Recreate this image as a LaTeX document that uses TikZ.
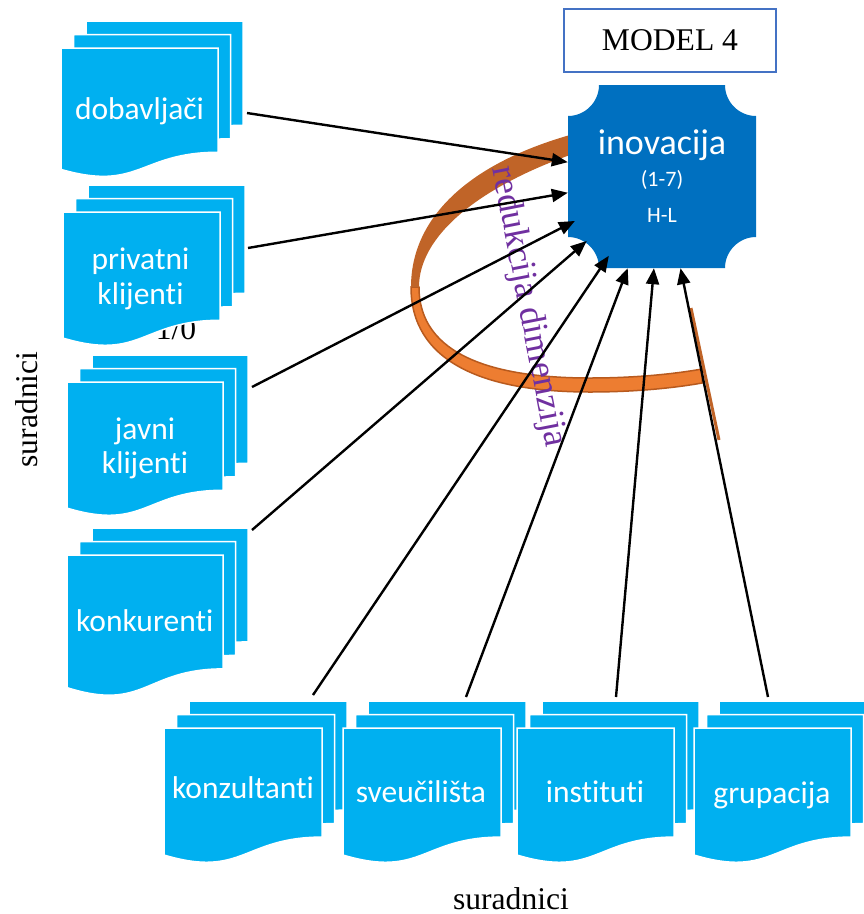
\documentclass[tikz,border=0pt]{standalone}
\usepackage{fontspec}
\setmainfont{Liberation Serif}
\newfontfamily\calfont[Ligatures=NoCommon]{Carlito}
\usepackage{xcolor}
\usetikzlibrary{arrows.meta}
\usetikzlibrary{positioning}
\usetikzlibrary{calc}

\definecolor{docblue}{RGB}{0,176,240}
\definecolor{inovblue}{RGB}{0,112,192}
\definecolor{modelblue}{RGB}{68,114,196}
\definecolor{redpurple}{RGB}{112,48,160}
\definecolor{ringorange}{RGB}{237,125,49}
\definecolor{ringbrown}{RGB}{192,100,40}
\definecolor{ringedge}{RGB}{184,90,30}

% one page, top left (#1,#2), width #3, height #4
\newcommand{\docpage}[4]{%
  \pgfmathsetmacro{\dpr}{#1+#3}%
  \pgfmathsetmacro{\dpm}{#1+0.5*#3}%
  \pgfmathsetmacro{\dpa}{#2+0.802*#4}%
  \pgfmathsetmacro{\dpb}{#2+1.1075*#4}%
  \pgfmathsetmacro{\dpc}{#2+0.934*#4}%
  \filldraw[fill=docblue,draw=white,line width=1.5pt] (#1,#2) -- (\dpr,#2) -- (\dpr,\dpa)
    .. controls (\dpm,\dpa) and (\dpm,\dpb) .. (#1,\dpc) -- cycle;}
% three pages behind each other
\newcommand{\docstack}[4]{%
  \docpage{#1+25}{#2-27}{#3}{#4}%
  \docpage{#1+12.5}{#2-13.5}{#3}{#4}%
  \docpage{#1}{#2}{#3}{#4}}

\begin{document}
\begin{tikzpicture}[x=1pt,y=-1pt]
			\tikzstyle{every node}=[inner sep=0pt]
			\tikzstyle{doctext}=[text=white,font=\calfont\fontsize{31.5}{34.3}\selectfont,align=center]
			\tikzstyle{serif}=[font=\rmfamily\fontsize{31.6}{36}\selectfont]
			\tikzstyle{conn}=[->,>={Triangle[length=16pt,width=13pt]},line width=2.4pt]

			\useasboundingbox (0,0) rectangle (864,914);

			% ring
			\filldraw[fill=ringorange,draw=ringedge,line width=1.5pt] (411,287) .. controls (411,360) and (480,392) .. (590,392)
			  .. controls (640,392) and (680,387) .. (702,383) -- (702,369) .. controls (680,373) and (640,378) .. (590,378)
			  .. controls (495,378) and (419,356) .. (419,287) -- cycle;
			\fill[ringbrown] (570,135) .. controls (465,165) and (411,220) .. (411,287) -- (419,287)
			  .. controls (419,236) and (478,188) .. (570,155) -- cycle;
			\draw[ringbrown,line width=3pt] (691,308) -- (719,440);

			\node (red) [text=redpurple,font=\rmfamily\fontsize{36}{40}\selectfont,rotate=-79] at (528,307) {redukcija dimenzija};

			% left column
			\node (jedan) [serif,anchor=base] at (176,339) {1/0};
			\docstack{61}{48}{157}{130}
			\node (dob) [doctext] at (139.5,111.4) {dobavljači};
			\docstack{63}{212}{157}{135}
			\node (priv) [doctext] at (140.5,278.8) {privatni\\klijenti};
			\docstack{67}{382}{156}{135}
			\node (javni) [doctext] at (145,448.2) {javni\\klijenti};
			\docstack{67}{555}{156}{142}
			\node (konk) [doctext] at (144.7,620.7) {konkurenti};

			% bottom row
			\docstack{164}{728}{158}{136}
			\node (konz) [doctext] at (243,788) {konzultanti};
			\docstack{343}{728}{158}{136}
			\node (sveu) [doctext] at (421,792) {sveučilišta};
			\docstack{517}{728}{157}{136}
			\node (inst) [doctext] at (595,792) {instituti};
			\docstack{694}{728}{157}{136}
			\node (grup) [doctext] at (772,795.6) {grupacija};

			% centre
			\fill[inovblue] (599,85) -- (725,85) .. controls (725,102) and (739,116) .. (756,116) -- (756,237)
			  .. controls (739,237) and (725,251) .. (725,268) -- (599,268) .. controls (599,251) and (585,237) .. (568,237)
			  -- (568,116) .. controls (585,116) and (599,102) .. (599,85) -- cycle;
			\node (inov) [text=white,font=\calfont\fontsize{22}{32}\selectfont,align=center,minimum width=188pt,minimum height=183pt]
			  at (662,176.5) {{\fontsize{36}{40}\selectfont inovacija}\\(1-7)\\[4pt]H-L};
			\node (model) [draw=modelblue,line width=2pt,minimum width=212pt,minimum height=63pt,serif] at (670,40.5) {MODEL 4};

			\coordinate (dob-c) at (247,113);
			\coordinate (priv-c) at (248,248);
			\coordinate (javni-c) at (252,387);
			\coordinate (konk-c) at (252,530);
			\coordinate (konz-c) at (313,695);
			\coordinate (sveu-c) at (466,697);
			\coordinate (inst-c) at (616,697);
			\coordinate (grup-c) at (768,697);

			\path[conn]
			(dob-c) edge (inov)
			(priv-c) edge (inov)
			(javni-c) edge [shorten >=-8pt] (inov)
			(konk-c) edge [shorten >=-25pt] (inov)
			(konz-c) edge [shorten >=-15pt] (inov)
			(sveu-c) edge (inov)
			(inst-c) edge (inov)
			(grup-c) edge (inov);

			\node (sur-l) [serif,rotate=90,anchor=base] at (37,409.5) {suradnici};
			\node (sur-b) [serif,anchor=base] at (511,909) {suradnici};

		\end{tikzpicture}
\end{document}
